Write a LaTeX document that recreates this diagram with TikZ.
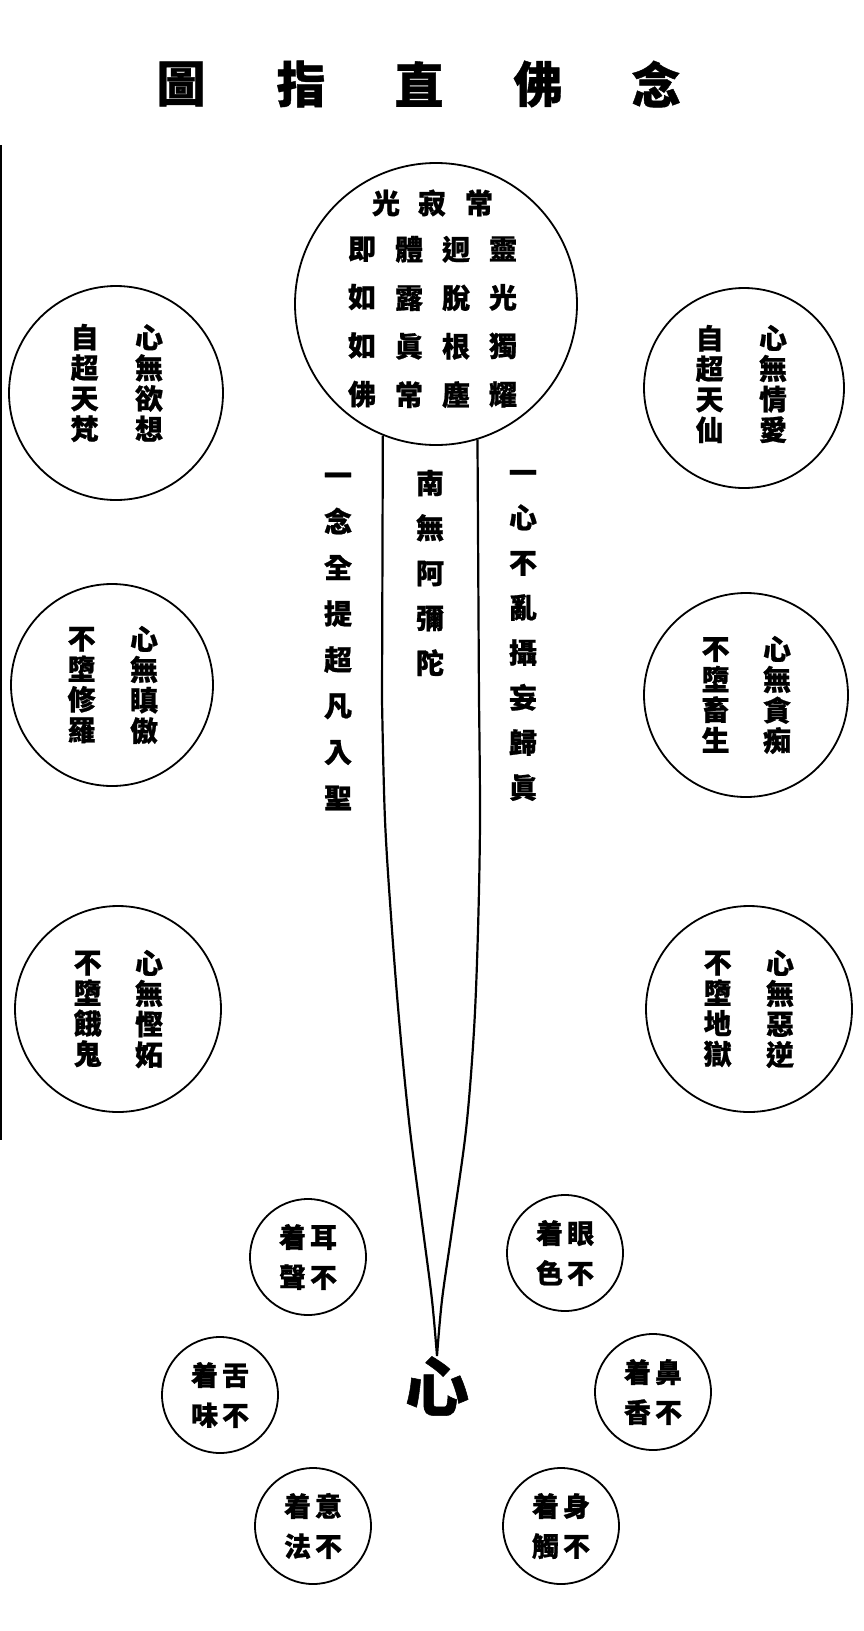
\documentclass[tikz,border=0pt]{standalone}
\usepackage{fontspec}
\newfontfamily\cjk{Noto Sans CJK TC}[BoldFeatures={FakeBold=0.8}]
\usetikzlibrary{positioning}

\tikzset{
  ring/.style={circle, draw, line width=1.8pt, inner sep=0pt},
  zicol/.style={font=\cjk\bfseries\fontsize{28}{#1}\selectfont, align=center, inner sep=0pt},
  zicol/.default=30.5,
  smallzi/.style={font=\cjk\bfseries\fontsize{27}{40}\selectfont, align=center},
  titlezi/.style={font=\cjk\bfseries\fontsize{49}{50}\selectfont, inner sep=0pt},
  funnel/.style={line width=2.2pt, line join=miter},
}

\begin{document}
\begin{tikzpicture}[x=1pt,y=-1pt]
  \useasboundingbox (0,0) rectangle (864,1631);
  % page edge
  \coordinate (edgetop) at (1.2,145);
  \coordinate (edgebot) at (1.2,1140);
  \draw[line width=2.4pt] (edgetop) -- (edgebot);

  % title, read from right to left
  \foreach \c/\x in {念/656,佛/538,直/419,指/301,圖/181}
    \node[titlezi] (title\x) at (\x,84) {\c};

  % the big circle on top
  \node[ring, minimum size=282pt] (guang) at (436,304) {};
  \foreach \c/\x in {光/386,寂/432,常/479}
    \node[zicol] (head\x) at (\x,203) {\c};
  \node[zicol=48.5] (colA) at (362,322) {即\\如\\如\\佛};
  \node[zicol=48.5] (colB) at (409,322) {體\\露\\眞\\常};
  \node[zicol=48.5] (colC) at (456,322) {迥\\脫\\根\\塵};
  \node[zicol=48.5] (colD) at (503,322) {靈\\光\\獨\\耀};

  % six circles on the sides
  \node[ring, minimum size=214pt] (fan) at (116,393) {};
  \node[zicol, xshift=33pt, yshift=10pt] (fanR) at (fan.center) {心\\無\\欲\\想};
  \node[zicol, left=36pt of fanR] (fanL) {自\\超\\天\\梵};

  \node[ring, minimum size=200pt] (xian) at (744,388) {};
  \node[zicol, xshift=29pt, yshift=4pt] (xianR) at (xian.center) {心\\無\\情\\愛};
  \node[zicol, left=35pt of xianR] (xianL) {自\\超\\天\\仙};

  \node[ring, minimum size=202pt] (xiuluo) at (112,685) {};
  \node[zicol, xshift=32pt] (xiuluoR) at (xiuluo.center) {心\\無\\瞋\\傲};
  \node[zicol, left=34pt of xiuluoR] (xiuluoL) {不\\墮\\修\\羅};

  \node[ring, minimum size=204pt] (chusheng) at (746,695) {};
  \node[zicol, xshift=31pt] (chushengR) at (chusheng.center) {心\\無\\貪\\痴};
  \node[zicol, left=33pt of chushengR] (chushengL) {不\\墮\\畜\\生};

  \node[ring, minimum size=206pt] (egui) at (118,1009) {};
  \node[zicol, xshift=31pt] (eguiR) at (egui.center) {心\\無\\慳\\妬};
  \node[zicol, left=33pt of eguiR] (eguiL) {不\\墮\\餓\\鬼};

  \node[ring, minimum size=206pt] (diyu) at (749,1009) {};
  \node[zicol, xshift=31pt] (diyuR) at (diyu.center) {心\\無\\惡\\逆};
  \node[zicol, left=34pt of diyuR] (diyuL) {不\\墮\\地\\獄};

  % the three lines of text by the funnel
  \node[zicol=46.1] (nian) at (338,641.5) {一\\念\\全\\提\\超\\凡\\入\\聖};
  \node[zicol=45] (amituo) at (430,573) {南\\無\\阿\\彌\\陀};
  \node[zicol=45] (yixin) at (523,635.5) {一\\心\\不\\亂\\攝\\妄\\歸\\眞};

  % funnel down to the heart
  \coordinate (tip) at (437,1356);
  \draw[funnel] (guang.-112) -- (382,700)
    -- plot[smooth, tension=0.55] coordinates {(382,700) (385,820) (392,930) (400,1030) (410,1130) (423,1230) (432,1300) (tip)}
    -- plot[smooth, tension=0.55] coordinates {(tip) (442,1300) (452,1230) (466,1130) (474,1030) (478,930) (480,820) (479,700)}
    -- (guang.-73);
  \node[font=\cjk\bfseries\fontsize{64}{64}\selectfont, inner sep=0pt] (xin) at (437,1386) {心};

  % six small circles round the heart
  \node[ring, minimum size=116pt, smallzi] (er) at (308,1257) {着\hspace{4pt}耳\\聲\hspace{4pt}不};
  \node[ring, minimum size=116pt, smallzi] (yan) at (565,1253) {着\hspace{4pt}眼\\色\hspace{4pt}不};
  \node[ring, minimum size=116pt, smallzi] (she) at (220,1395) {着\hspace{4pt}舌\\味\hspace{4pt}不};
  \node[ring, minimum size=116pt, smallzi] (bi) at (653,1392) {着\hspace{4pt}鼻\\香\hspace{4pt}不};
  \node[ring, minimum size=116pt, smallzi] (yi) at (313,1526) {着\hspace{4pt}意\\法\hspace{4pt}不};
  \node[ring, minimum size=116pt, smallzi] (shen) at (561,1526) {着\hspace{4pt}身\\觸\hspace{4pt}不};
\end{tikzpicture}
\end{document}
